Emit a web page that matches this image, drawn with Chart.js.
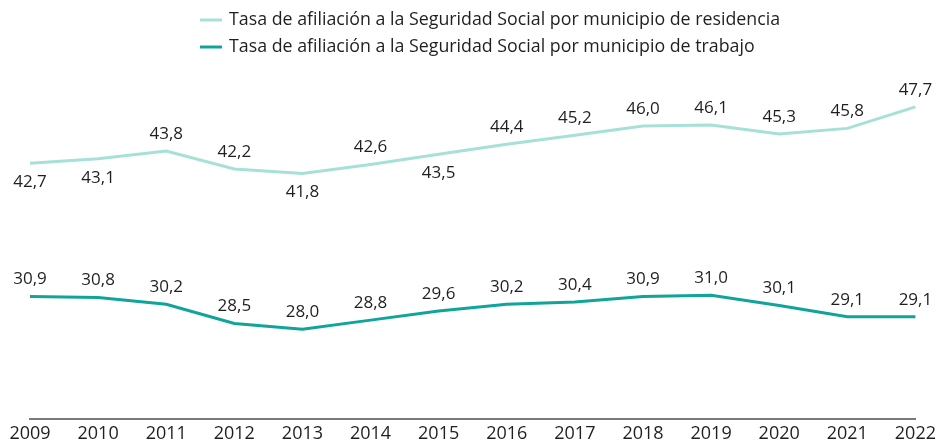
<!DOCTYPE html>
<html>
<head>
<meta charset="utf-8">
<script src="https://cdn.jsdelivr.net/npm/chart.js@4/dist/chart.umd.min.js"></script>
<style>
  html, body { margin: 0; padding: 0; background: #fff; overflow: hidden; }
  #wrap { position: relative; width: 940px; height: 449px; }
</style>
</head>
<body>
<div id="wrap"><canvas id="chart"></canvas></div>
<script>
// years on the x axis
const years = ['2009', '2010', '2011', '2012', '2013', '2014', '2015', '2016', '2017', '2018', '2019', '2020', '2021', '2022']

// affiliation rate by place of residence / by place of work
const residencia = [42.7, 43.1, 43.8, 42.2, 41.8, 42.6, 43.5, 44.4, 45.2, 46.0, 46.1, 45.3, 45.8, 47.7]
const trabajo = [30.9, 30.8, 30.2, 28.5, 28.0, 28.8, 29.6, 30.2, 30.4, 30.9, 31.0, 30.1, 29.1, 29.1]

// which residence labels sit under the line
const residenciaBelow = ['2009', '2010', '2013', '2015']

const seriesNames = [
    'Tasa de afiliación a la Seguridad Social por municipio de residencia',
    'Tasa de afiliación a la Seguridad Social por municipio de trabajo'
]

const FONT = '"Open Sans", sans-serif'
const TEXT = '#1f1f1f'

const pointLabels = {
    id: 'pointLabels',
    afterDatasetsDraw(chart) {
        const ctx = chart.ctx
        ctx.save()
        ctx.font = '17px ' + FONT
        ctx.fillStyle = TEXT
        ctx.textAlign = 'center'
        ctx.textBaseline = 'middle'
        chart.data.datasets.forEach((ds, i) => {
            chart.getDatasetMeta(i).data.forEach((pt, j) => {
                const below = i === 0 && residenciaBelow.includes(years[j])
                const txt = ds.data[j].toFixed(1).replace('.', ',')
                ctx.fillText(txt, pt.x, pt.y + (below ? 19 : -17))
            })
        })
        ctx.restore()
    }
}

const legendBlock = {
    id: 'legendBlock',
    afterDraw(chart) {
        const ctx = chart.ctx
        ctx.save()
        ctx.font = '17.8px ' + FONT
        ctx.textBaseline = 'middle'
        chart.data.datasets.forEach((ds, i) => {
            const y = 20 + i * 27
            ctx.strokeStyle = ds.borderColor
            ctx.lineWidth = 3
            ctx.beginPath()
            ctx.moveTo(200, y)
            ctx.lineTo(222, y)
            ctx.stroke()
            ctx.fillStyle = TEXT
            ctx.fillText(seriesNames[i], 229, y)
        })
        ctx.restore()
    }
}

new Chart(document.getElementById('chart'), {
    type: 'line',
    data: {
        labels: years,
        datasets: [
            {label: seriesNames[0], data: residencia, borderColor: '#a6e1d8', borderWidth: 3, pointRadius: 0, tension: 0},
            {label: seriesNames[1], data: trabajo, borderColor: '#10a49b', borderWidth: 3, pointRadius: 0, tension: 0}
        ]
    },
    options: {
        responsive: true,
        maintainAspectRatio: false,
        animation: false,
        layout: {padding: {top: 81, left: 30, right: 19, bottom: 0}},
        plugins: {legend: {display: false}, tooltip: {enabled: false}},
        scales: {
            x: {
                offset: false,
                grid: {display: false, drawTicks: false, tickLength: 0},
                border: {display: true, color: '#7a7a7a', width: 2},
                ticks: {color: TEXT, font: {family: FONT, size: 18}, padding: 4, maxRotation: 0, autoSkip: false}
            },
            y: {display: false, min: 20, max: 50}
        }
    },
    plugins: [pointLabels, legendBlock]
})
</script>
</body>
</html>
